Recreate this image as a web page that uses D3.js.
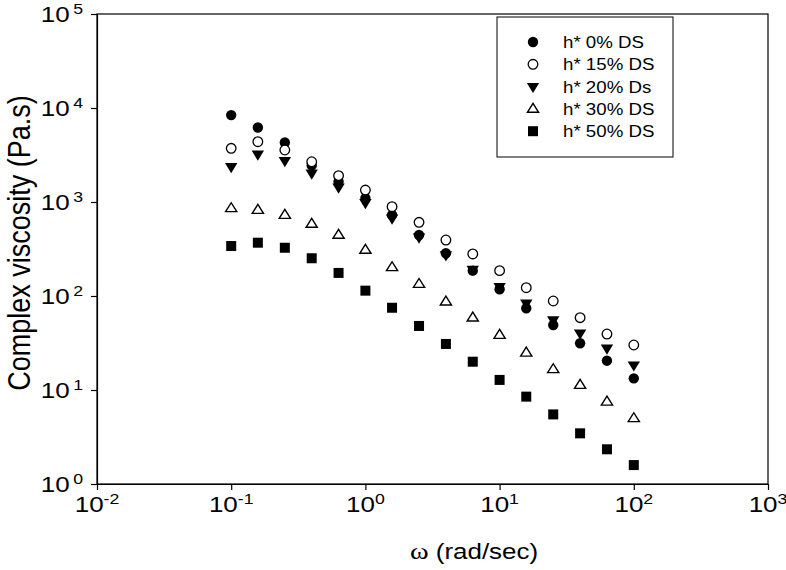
<!DOCTYPE html>
<html>
<head>
<meta charset="utf-8">
<script src="https://cdn.jsdelivr.net/npm/d3@7/dist/d3.min.js"></script>
<style>
html,body{margin:0;padding:0;background:#fff;}
svg{display:block;font-family:"Liberation Sans",Arial,sans-serif;}
</style>
</head>
<body>
<svg id="c" width="786" height="570"></svg>
<script>
const omega = [0.1, 0.158, 0.251, 0.398, 0.631, 1, 1.58, 2.51, 3.98, 6.31, 10, 15.8, 25.1, 39.8, 63.1, 100];
const ds0  = [8400, 6200, 4300, 2450, 1650, 1100, 727, 446, 285, 186, 118, 74, 49.2, 31.4, 20.5, 13.3];
const ds15 = [3725, 4380, 3575, 2680, 1905, 1340, 891, 608, 394, 280, 186, 122.5, 88.5, 58.8, 39.4, 30.1];
const ds20 = [2374, 3215, 2750, 2020, 1433, 984, 671, 421, 273, 192, 125.6, 83.6, 55.6, 40.1, 27.8, 18.4];
const ds30 = [857, 822, 727, 584, 446, 309, 202, 134, 87, 58.8, 38.5, 24.9, 16.6, 11.3, 7.5, 5.0];
const ds50 = [340, 369, 326, 252, 176, 114, 75, 48, 30.9, 20, 12.8, 8.5, 5.5, 3.46, 2.34, 1.59];
const seriesNames = ["h* 0% DS", "h* 15% DS", "h* 20% Ds", "h* 30% DS", "h* 50% DS"];
const xTickExp = [-2, -1, 0, 1, 2, 3];
const yTickExp = [0, 1, 2, 3, 4, 5];

const seriesData = [ds0, ds15, ds20, ds30, ds50];
const markerTypes = ["circleFilled", "circleOpen", "triDown", "triUp", "square"];

const svg = d3.select("#c");
const L = 97, R = 768, T = 14, B = 484;
const SX = 1.18; // horizontal text stretch seen in the reference
const x = d3.scaleLog().domain([1e-2, 1e3]).range([L, R]);
const y = d3.scaleLog().domain([1, 1e5]).range([B, T]);

// frame
svg.append("rect").attr("x", L).attr("y", T).attr("width", R - L).attr("height", B - T)
  .attr("fill", "none").attr("stroke", "#000").attr("stroke-width", 1.2);

// axes
const xAxis = d3.axisBottom(x).tickValues(xTickExp.map(e => Math.pow(10, e))).tickFormat("").tickSize(6).tickSizeOuter(0);
svg.append("g").attr("transform", `translate(0,${B})`).call(xAxis)
  .call(g => g.select(".domain").attr("stroke-width", 1.2))
  .call(g => g.selectAll(".tick line").attr("stroke-width", 1.2));
const yAxis = d3.axisLeft(y).tickValues(yTickExp.map(e => Math.pow(10, e))).tickFormat("").tickSize(6).tickSizeOuter(0);
svg.append("g").attr("transform", `translate(${L},0)`).call(yAxis)
  .call(g => g.select(".domain").attr("stroke-width", 1.2))
  .call(g => g.selectAll(".tick line").attr("stroke-width", 1.2));

// tick labels
xTickExp.forEach(e => {
  const t = svg.append("text").attr("transform", `translate(${x(Math.pow(10, e))},512) scale(${SX},1)`)
    .attr("text-anchor", "middle").attr("font-size", 22).attr("fill", "#000");
  t.append("tspan").text("10");
  t.append("tspan").attr("dy", -8).attr("font-size", 15).text(e);
});
yTickExp.forEach(e => {
  const t = svg.append("text").attr("transform", `translate(83,${y(Math.pow(10, e)) + 8}) scale(${SX},1)`)
    .attr("text-anchor", "end").attr("font-size", 22).attr("fill", "#000");
  t.append("tspan").text("10");
  t.append("tspan").attr("dy", -8).attr("font-size", 15).attr("dx", 3).text(e);
});

// axis titles
const xt = svg.append("text").attr("transform", `translate(474,559) scale(${SX},1)`).attr("text-anchor", "middle")
  .attr("font-size", 22);
xt.append("tspan").attr("font-family", "'Liberation Serif','Times New Roman',serif").attr("font-size", 24).text("ω");
xt.append("tspan").text(" (rad/sec)");
svg.append("text").attr("transform", `translate(30,243) scale(${SX},1) rotate(-90)`).attr("text-anchor", "middle")
  .attr("font-size", 27).text("Complex viscosity (Pa.s)");

// markers
function drawMarker(g, type, cx, cy) {
  if (type === "circleFilled") {
    g.append("circle").attr("cx", cx).attr("cy", cy).attr("r", 5.2).attr("fill", "#000");
  } else if (type === "circleOpen") {
    g.append("circle").attr("cx", cx).attr("cy", cy).attr("r", 4.8).attr("fill", "#fff").attr("stroke", "#000").attr("stroke-width", 1.3);
  } else if (type === "triDown") {
    const s = 6.2;
    g.append("path").attr("d", `M${cx - s},${cy - s * 0.6}L${cx + s},${cy - s * 0.6}L${cx},${cy + s * 1.05}Z`).attr("fill", "#000");
  } else if (type === "triUp") {
    const s = 5.6;
    g.append("path").attr("d", `M${cx - s},${cy + s * 0.6}L${cx + s},${cy + s * 0.6}L${cx},${cy - s * 1.0}Z`)
      .attr("fill", "#fff").attr("stroke", "#000").attr("stroke-width", 1.4).attr("stroke-linejoin", "miter");
  } else if (type === "square") {
    g.append("rect").attr("x", cx - 5).attr("y", cy - 5).attr("width", 10).attr("height", 10).attr("fill", "#000");
  }
}

const pts = svg.append("g");
seriesData.forEach((vals, i) => {
  const g = pts.append("g");
  vals.forEach((v, j) => drawMarker(g, markerTypes[i], x(omega[j]), y(v)));
});

// legend
const lg = svg.append("g");
lg.append("rect").attr("x", 497).attr("y", 17).attr("width", 176).attr("height", 140)
  .attr("fill", "#fff").attr("stroke", "#000").attr("stroke-width", 1);
seriesNames.forEach((n, i) => {
  const cy = 42 + i * 22.3;
  drawMarker(lg, markerTypes[i], 533, cy);
  lg.append("text").attr("transform", `translate(563,${cy + 6}) scale(1.1,1)`).attr("font-size", 17).text(n);
});
</script>
</body>
</html>
